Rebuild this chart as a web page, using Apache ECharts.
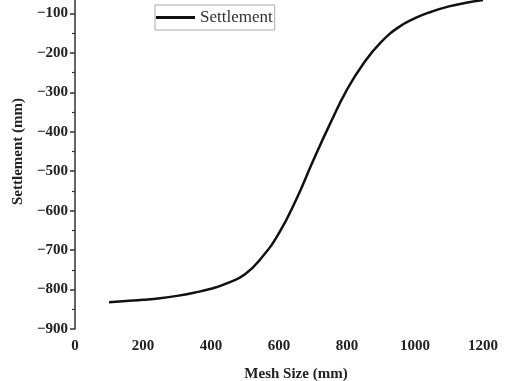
<!DOCTYPE html>
<html>
<head>
<meta charset="utf-8">
<script src="https://cdn.jsdelivr.net/npm/echarts@6/dist/echarts.min.js"></script>
<style>
  html, body { margin: 0; padding: 0; background: #fff; }
  #chart { width: 524px; height: 381px; }
</style>
</head>
<body>
<div id="chart"></div>
<script>
// values
var meshSize = [100, 150, 200, 250, 300, 350, 400, 450, 500, 550, 600, 650, 700, 750, 800, 850, 900, 950, 1000, 1050, 1100, 1150, 1200];
var settlement = [-832, -829, -826, -822, -816, -808, -798, -783, -761, -718, -657, -573, -474, -380, -293, -225, -173, -136, -112, -95, -82, -73, -66];
var seriesName = 'Settlement';

var points = meshSize.map(function (x, i) { return [x, settlement[i]]; });

var chart = echarts.init(document.getElementById('chart'));

function minus(v) { return String(v).replace('-', '\u2212'); }

chart.setOption({
  animation: false,
  grid: { left: 75, right: 7, top: -26, bottom: 52, outerBoundsMode: 'none', containLabel: false },
  legend: {
    data: [seriesName],
    left: 155,
    top: 5,
    icon: 'rect',
    itemWidth: 39,
    itemHeight: 3,
    itemGap: 5,
    padding: [4, 2, 4, 1],
    borderColor: '#aaa',
    borderWidth: 1,
    textStyle: { fontFamily: '"Liberation Serif", serif', fontSize: 17, color: '#333' }
  },
  xAxis: {
    type: 'value',
    min: 0,
    max: 1300,
    interval: 200,
    name: 'Mesh Size (mm)',
    nameLocation: 'middle',
    nameGap: 38,
    nameTextStyle: { fontFamily: '"Liberation Serif", serif', fontWeight: 'bold', fontSize: 15, color: '#222' },
    axisLine: { lineStyle: { color: '#333', width: 1.5 } },
    axisTick: { length: 5, lineStyle: { color: '#333', width: 1.5 } },
    minorTick: { show: true, splitNumber: 2, length: 3, lineStyle: { color: '#333', width: 1.2 } },
    splitLine: { show: false },
    axisLabel: {
      margin: 10,
      fontFamily: '"Liberation Serif", serif', fontWeight: 'bold', fontSize: 15, color: '#222',
      formatter: function (v) { return v % 200 === 0 ? v : ''; }
    }
  },
  yAxis: {
    type: 'value',
    min: -900,
    max: 0,
    interval: 100,
    name: 'Settlement (mm)',
    nameLocation: 'middle',
    nameGap: 48,
    nameTextStyle: { fontFamily: '"Liberation Serif", serif', fontWeight: 'bold', fontSize: 15, color: '#222' },
    axisLine: { show: true, lineStyle: { color: '#333', width: 1.5 } },
    axisTick: { show: true, length: 5, lineStyle: { color: '#333', width: 1.5 } },
    minorTick: { show: true, splitNumber: 2, length: 3, lineStyle: { color: '#333', width: 1.2 } },
    splitLine: { show: false },
    axisLabel: {
      margin: 7,
      fontFamily: '"Liberation Serif", serif', fontWeight: 'bold', fontSize: 15, color: '#222',
      formatter: minus
    }
  },
  series: [{
    name: seriesName,
    type: 'line',
    data: points,
    smooth: 0.5,
    showSymbol: false,
    lineStyle: { color: '#111', width: 2.5 },
    itemStyle: { color: '#111' }
  }]
});
</script>
</body>
</html>
